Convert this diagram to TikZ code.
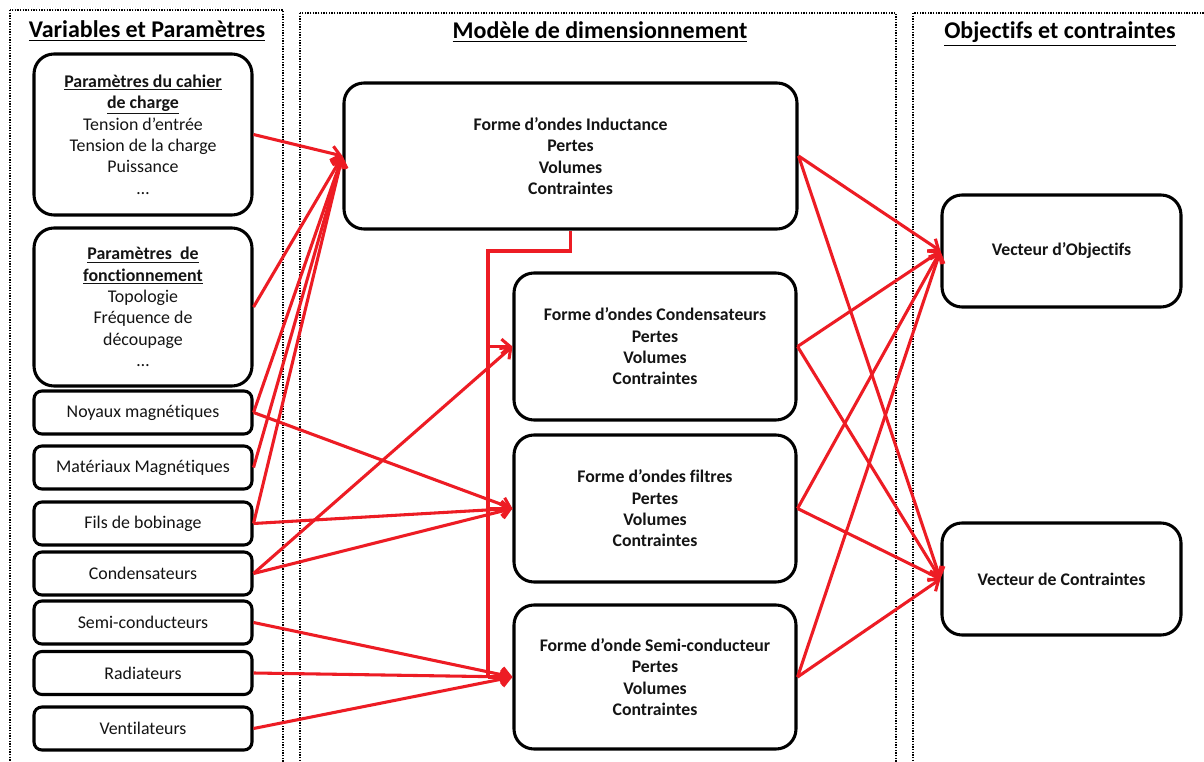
\documentclass[tikz,border=0pt]{standalone}
\usepackage{fontspec}
\setmainfont{Carlito}[Ligatures=NoCommon]
\usetikzlibrary{arrows.meta}
\definecolor{lred}{RGB}{237,28,36}
\definecolor{txt}{RGB}{20,20,20}
\tikzset{
  panel/.style={draw=black, line width=1.4pt, dash pattern=on 1pt off 1pt},
  ptitle/.style={anchor=base, font=\fontsize{18}{20}\selectfont\bfseries, inner sep=0pt},
  bigbox/.style={draw=black, line width=2.3pt, rounded corners=15pt, align=center, text=txt,
    font=\fontsize{13.4}{16}\selectfont, inner sep=2pt},
  smallbox/.style={draw=black, line width=2.3pt, rounded corners=6pt, align=center, text=txt,
    font=\fontsize{13.4}{16}\selectfont, minimum width=163.5pt, minimum height=32.25pt, inner sep=2pt},
  midbox/.style={draw=black, line width=2.3pt, rounded corners=15pt, align=center, text=txt,
    font=\fontsize{13.3}{16}\selectfont\bfseries, inner sep=2pt},
  arr/.style={draw=lred, line width=2.3pt, -{Straight Barb[length=6.5pt,width=11pt]}},
  rline/.style={draw=lred, line width=2.3pt},
}
\begin{document}
\begin{tikzpicture}[x=0.75pt, y=-0.75pt]
\useasboundingbox (0,0) rectangle (1204,762);
\fill[white] (0,0) rectangle (1204,762);
% panels
\draw[panel] (10,10) rectangle (283,780);
\draw[panel] (300,13) rectangle (896,780);
\draw[panel] (913,13) rectangle (1230,780);
% titles
\node[ptitle] (t1) at (147,38) {\underline{Variables et Paramètres}};
\node[ptitle] (t2) at (600,39) {\underline{Modèle de dimensionnement}};
\node[ptitle] (t3) at (1060,39) {\underline{Objectifs et contraintes}};
% left boxes
\node[bigbox, minimum width=163.5pt, minimum height=120.75pt] (cdc) at (143,134.5)
  {\textbf{\underline{Paramètres du cahier}}\\\textbf{\underline{de charge}}\\Tension d’entrée\\Tension de la charge\\Puissance\\…};
\node[bigbox, minimum width=163.5pt, minimum height=118.5pt] (fct) at (143,307)
  {\textbf{\underline{Paramètres\ \ de}}\\\textbf{\underline{fonctionnement}}\\Topologie\\Fréquence de\\découpage\\…};
\node[smallbox] (noy) at (143,412.5) {Noyaux magnétiques};
\node[smallbox] (mat) at (143,467.5) {Matériaux Magnétiques};
\node[smallbox] (fil) at (143,523.5) {Fils de bobinage};
\node[smallbox] (con) at (143,573.5) {Condensateurs};
\node[smallbox] (sem) at (143,622.5) {Semi-conducteurs};
\node[smallbox] (rad) at (143,673) {Radiateurs};
\node[smallbox] (ven) at (143,728.5) {Ventilateurs};
% middle boxes
\node[midbox, minimum width=339.75pt, minimum height=109.5pt] (ind) at (570.5,156)
  {Forme d’ondes Inductance\\Pertes\\Volumes\\Contraintes};
\node[midbox, minimum width=211.5pt, minimum height=110.25pt] (cnd) at (655,346.5)
  {Forme d’ondes Condensateurs\\Pertes\\Volumes\\Contraintes};
\node[midbox, minimum width=211.5pt, minimum height=110.25pt] (flt) at (655,508.5)
  {Forme d’ondes filtres\\Pertes\\Volumes\\Contraintes};
\node[midbox, minimum width=211.5pt, minimum height=108pt] (scd) at (655,677)
  {Forme d’onde Semi-conducteur\\Pertes\\Volumes\\Contraintes};
% right boxes
\node[midbox, minimum width=179.25pt, minimum height=84pt] (obj) at (1061.5,251) {Vecteur d’Objectifs};
\node[midbox, minimum width=179.25pt, minimum height=84pt] (ctr) at (1061.5,579) {Vecteur de Contraintes};
% bus from inductance
\coordinate (busTop) at (488,251);
\coordinate (busBot) at (488,677);
\draw[rline, line join=miter] (ind.south) |- (busTop) -- (busBot);
\draw[arr] (busTop |- cnd.west) -- (cnd.west);
\draw[arr] (busTop |- flt.west) -- (flt.west);
\draw[arr] (busBot) -- (scd.west);
% left connections
\foreach \s in {cdc,fct,noy,mat,fil} \draw[arr] (\s.east) -- (ind.west);
\draw[arr] (noy.east) -- (flt.west);
\draw[arr] (fil.east) -- (flt.west);
\draw[arr] (con.east) -- (cnd.west);
\draw[arr] (con.east) -- (flt.west);
\draw[arr] (sem.east) -- (scd.west);
\draw[arr] (rad.east) -- (scd.west);
\draw[arr] (ven.east) -- (scd.west);
% right connections
\foreach \s in {ind,cnd,flt,scd} {
  \draw[arr] (\s.east) -- (obj.west);
  \draw[arr] (\s.east) -- (ctr.west);
}
\end{tikzpicture}
\end{document}
